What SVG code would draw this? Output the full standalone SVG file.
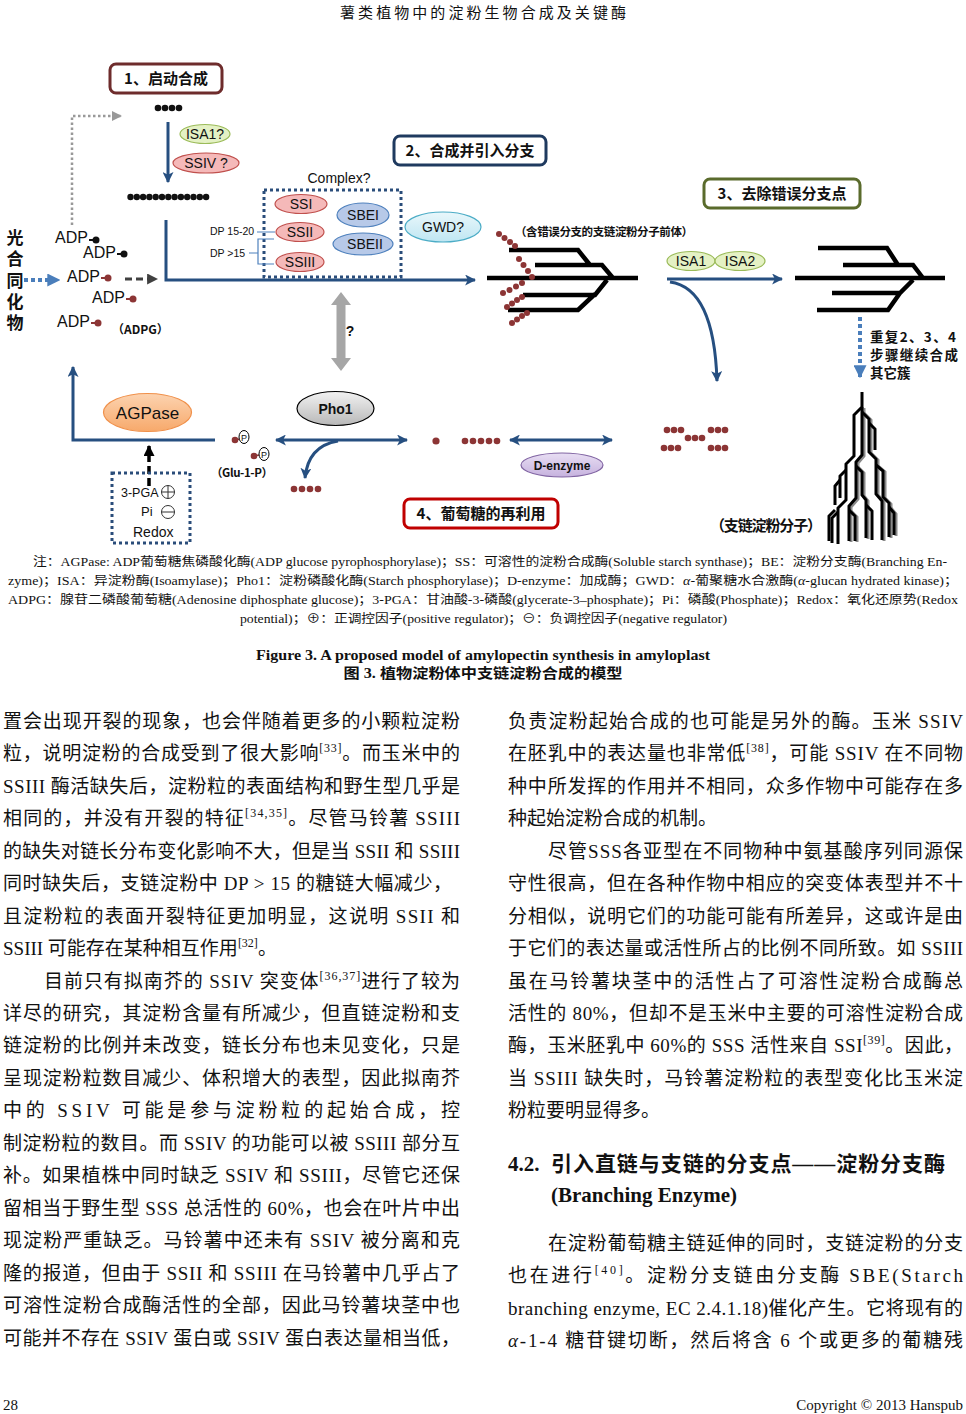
<svg xmlns="http://www.w3.org/2000/svg" width="966" height="1414" viewBox="0 0 966 1414">
<defs>
<style>
.serif{font-family:'Liberation Serif','Noto Sans CJK SC',serif;fill:#111}
.body{font-size:19px}
.note{font-size:12px}
.sans{font-family:'Liberation Sans','Noto Sans CJK SC',sans-serif;fill:#111}
.cal{font-family:'Liberation Sans','Noto Sans CJK SC',sans-serif;fill:#111}
.cjkb{font-family:'Noto Sans CJK SC',sans-serif;font-weight:bold;fill:#111}
.box{fill:#fff;stroke-width:3}
.blue{stroke:#264f80;stroke-width:3;fill:none}
.cb{fill:#111}
.cr{fill:#8c3535}
.mol{stroke:#000;stroke-width:4.5;fill:none;stroke-linejoin:miter}
.tree{stroke:#000;stroke-width:3;fill:none;stroke-linejoin:miter}
.treeS{stroke:#8a8a8a;stroke-width:3;fill:none}
.sup{font-size:12px}
.ssE{fill:#f5b9b9;stroke:#c0504d;stroke-width:1.2}
.sbE{fill:#b7c9e8;stroke:#4f81bd;stroke-width:1.2}
.isaE{fill:#e4f1c4;stroke:#9bbb59;stroke-width:1.2}
.lbl{font-family:'Liberation Sans','Open Sans',sans-serif;font-size:14px;fill:#111;text-anchor:middle}
</style>
<linearGradient id="gOr" x1="0" y1="0" x2="0" y2="1"><stop offset="0" stop-color="#fcd3b0"/><stop offset="1" stop-color="#f7a96b"/></linearGradient>
<linearGradient id="gGy" x1="0" y1="0" x2="0" y2="1"><stop offset="0" stop-color="#f2f2f2"/><stop offset="1" stop-color="#b8b8b8"/></linearGradient>
<linearGradient id="gPu" x1="0" y1="0" x2="0" y2="1"><stop offset="0" stop-color="#e8def3"/><stop offset="1" stop-color="#c6b2de"/></linearGradient>
<linearGradient id="gCy" x1="0" y1="0" x2="0" y2="1"><stop offset="0" stop-color="#e9f7fb"/><stop offset="1" stop-color="#bfe6f2"/></linearGradient>
<marker id="ab" viewBox="0 0 10 10" refX="9" refY="5" markerWidth="11" markerHeight="11" markerUnits="userSpaceOnUse" orient="auto-start-reverse"><path d="M0,0 L10,5 L0,10 L2.5,5 z" fill="#264f80"/></marker>
<marker id="alb" viewBox="0 0 10 10" refX="9" refY="5" markerWidth="13" markerHeight="13" markerUnits="userSpaceOnUse" orient="auto"><path d="M0,0 L10,5 L0,10 z" fill="#4a7ebb"/></marker>
<marker id="adg" viewBox="0 0 10 10" refX="9" refY="5" markerWidth="11" markerHeight="11" markerUnits="userSpaceOnUse" orient="auto"><path d="M0,0 L10,5 L0,10 z" fill="#404040"/></marker>
<marker id="ag" viewBox="0 0 10 10" refX="9" refY="5" markerWidth="10" markerHeight="10" markerUnits="userSpaceOnUse" orient="auto"><path d="M0,0 L10,5 L0,10 z" fill="#999"/></marker>
<marker id="ak" viewBox="0 0 10 10" refX="9" refY="5" markerWidth="11" markerHeight="11" markerUnits="userSpaceOnUse" orient="auto"><path d="M0,0 L10,5 L0,10 z" fill="#000"/></marker>
</defs>
<rect width="966" height="1414" fill="#fff"/>

<!-- header -->
<text class="serif" x="340" y="18" font-size="15" textLength="286" lengthAdjust="spacing">薯类植物中的淀粉生物合成及关键酶</text>

<!-- connectors -->
<g id="connectors">
  <path d="M72,225 V116 H121" stroke="#999" stroke-width="2.5" stroke-dasharray="2.5 2.5" fill="none" marker-end="url(#ag)"/>
  <path d="M168,122 V182" class="blue" marker-end="url(#ab)"/>
  <path d="M166,220 V280 H475" class="blue" marker-end="url(#ab)"/>
  <path d="M24,280 H59" stroke="#4a7ebb" stroke-width="4" stroke-dasharray="4 3" fill="none" marker-end="url(#alb)"/>
  <path d="M125,279 H157" stroke="#404040" stroke-width="3" stroke-dasharray="7 4" fill="none" marker-end="url(#adg)"/>
  <polygon points="341,292 351,305 345.5,305 345.5,358 351,358 341,371 331,358 336.5,358 336.5,305 331,305" fill="#a6a6a6"/>
  <path d="M667,279 H782" class="blue" marker-end="url(#ab)"/>
  <path d="M670,282 Q714,288 717,381" class="blue" marker-end="url(#ab)"/>
  <path d="M860,317 V377" stroke="#4a7ebb" stroke-width="4" stroke-dasharray="4 3" fill="none" marker-end="url(#alb)"/>
  <path d="M215,440 H73 V367" class="blue" marker-end="url(#ab)"/>
  <path d="M149,486 V446" stroke="#000" stroke-width="3.5" stroke-dasharray="8 4" fill="none" marker-end="url(#ak)"/>
  <path d="M276,440 H407" class="blue" marker-start="url(#ab)" marker-end="url(#ab)"/>
  <path d="M338,441 Q308,446 305,478" class="blue" marker-end="url(#ab)"/>
  <path d="M510,440 H612" class="blue" marker-start="url(#ab)" marker-end="url(#ab)"/>
</g>

<!-- step boxes -->
<g id="step1"><rect x="110" y="64" width="112" height="29" rx="6" class="box" stroke="#6e2c2c"/><text class="cjkb" x="166" y="84" font-size="15" text-anchor="middle">1、启动合成</text></g>
<g id="step2"><rect x="394" y="136" width="152" height="29" rx="6" class="box" stroke="#1f3a5f"/><text class="cjkb" x="470" y="156" font-size="15" text-anchor="middle">2、合成并引入分支</text></g>
<g id="step3"><rect x="704" y="179" width="156" height="29" rx="6" class="box" stroke="#5a6b2c"/><text class="cjkb" x="782" y="199" font-size="15" text-anchor="middle">3、去除错误分支点</text></g>
<g id="step4"><rect x="404" y="499" width="154" height="29" rx="6" class="box" stroke="#c00000"/><text class="cjkb" x="481" y="519" font-size="15" text-anchor="middle">4、葡萄糖的再利用</text></g>

<!-- photosynthate -->
<g id="photo">
  <text class="cjkb" x="15" y="229" font-size="17" writing-mode="vertical-rl" letter-spacing="4.3">光合同化物</text>
</g>

<!-- ADP glucose -->
<g id="adpg">
  <text class="sans" font-size="16"><tspan x="55" y="243">ADP</tspan><tspan x="83" y="258">ADP</tspan><tspan x="67" y="282">ADP</tspan><tspan x="92" y="303">ADP</tspan><tspan x="57" y="327">ADP</tspan></text>
  <g stroke-width="2">
    <line x1="89" y1="240" x2="94" y2="240" stroke="#111"/><circle cx="96" cy="240" r="3.5" class="cb"/>
    <line x1="117" y1="254" x2="122" y2="254" stroke="#111"/><circle cx="124" cy="254" r="3.5" class="cb"/>
    <line x1="101" y1="278" x2="106" y2="278" stroke="#8c3535"/><circle cx="108" cy="278" r="3.5" class="cr"/>
    <line x1="126" y1="299" x2="131" y2="299" stroke="#8c3535"/><circle cx="133" cy="299" r="3.5" class="cr"/>
    <line x1="91" y1="323" x2="96" y2="323" stroke="#8c3535"/><circle cx="98" cy="323" r="3.5" class="cr"/>
  </g>
  <text class="cjkb" x="112" y="334" font-size="12">（ADPG）</text>
</g>

<!-- initiation -->
<g id="init">
  <g class="cb"><circle cx="158" cy="108" r="3.3"/><circle cx="165" cy="108" r="3.3"/><circle cx="172" cy="108" r="3.3"/><circle cx="179" cy="108" r="3.3"/></g>
  <ellipse cx="205" cy="134" rx="25" ry="9.5" class="isaE"/><text class="lbl" x="205" y="139" font-size="13">ISA1?</text>
  <ellipse cx="206" cy="163" rx="33" ry="10" class="ssE"/><text class="lbl" x="206" y="168" font-size="13">SSIV ?</text>
  <g class="cb">
    <circle cx="130.5" cy="197" r="3.2"/><circle cx="136.8" cy="197" r="3.2"/><circle cx="143.1" cy="197" r="3.2"/><circle cx="149.4" cy="197" r="3.2"/><circle cx="155.7" cy="197" r="3.2"/><circle cx="162" cy="197" r="3.2"/><circle cx="168.3" cy="197" r="3.2"/><circle cx="174.6" cy="197" r="3.2"/><circle cx="180.9" cy="197" r="3.2"/><circle cx="187.2" cy="197" r="3.2"/><circle cx="193.5" cy="197" r="3.2"/><circle cx="199.8" cy="197" r="3.2"/><circle cx="206.1" cy="197" r="3.2"/>
  </g>
</g>

<!-- complex -->
<g id="complex">
  <text class="lbl" x="339" y="183" font-size="12.5">Complex?</text>
  <rect x="264" y="190" width="137" height="87" fill="none" stroke="#2a4d7a" stroke-width="3" stroke-dasharray="3 3"/>
  <ellipse cx="301" cy="204" rx="26" ry="9.5" class="ssE"/><text class="lbl" x="301" y="209">SSI</text>
  <ellipse cx="300" cy="232" rx="24" ry="9.5" class="ssE"/><text class="lbl" x="300" y="237">SSII</text>
  <ellipse cx="300" cy="262" rx="24" ry="9.5" class="ssE"/><text class="lbl" x="300" y="267">SSIII</text>
  <ellipse cx="363" cy="215" rx="26" ry="12" class="sbE"/><text class="lbl" x="363" y="220">SBEI</text>
  <ellipse cx="363" cy="244" rx="30" ry="11" class="sbE"/><text class="lbl" x="365" y="249">SBEII</text>
  <text class="cal" x="210" y="235" font-size="10.5">DP 15-20</text>
  <text class="cal" x="210" y="257" font-size="10.5">DP &gt;15</text>
  <path d="M257,232 H275 M249,253 H258 M274,239 H258 V264 H274" stroke="#4f81bd" stroke-width="1.2" fill="none"/>
</g>

<g id="gwd"><ellipse cx="443" cy="227" rx="38" ry="15" fill="url(#gCy)" stroke="#4bacc6" stroke-width="1.2"/><text class="lbl" x="443" y="232" font-size="15">GWD?</text></g>

<text class="lbl" x="350" y="336" font-size="16" font-weight="bold">?</text>

<!-- precursor -->
<g id="precursor">
  <text class="cjkb" x="515" y="236" font-size="11.5" textLength="178">（含错误分支的支链淀粉分子前体）</text>
  <path class="mol" d="M487,278 H638 M509,250 H578 L590,265 M535,265 H602 L613,278 M523,295 H595 L607,280 M508,310 H578 L595,294"/>
  <g class="cr">
    <circle cx="499" cy="234" r="3"/><circle cx="504.5" cy="238" r="3"/><circle cx="510" cy="242" r="3"/><circle cx="515" cy="246" r="3"/>
    <circle cx="519" cy="259" r="3"/><circle cx="523.5" cy="265" r="3"/><circle cx="528" cy="271" r="3"/><circle cx="532" cy="277" r="3"/>
    <circle cx="503" cy="293" r="3"/><circle cx="509.5" cy="290" r="3"/><circle cx="516" cy="286.5" r="3"/><circle cx="522" cy="283" r="3"/>
    <circle cx="507" cy="307" r="3"/><circle cx="512" cy="303.5" r="3"/><circle cx="517" cy="300" r="3"/><circle cx="522" cy="297" r="3"/>
    <circle cx="512" cy="323" r="3"/><circle cx="517" cy="319.5" r="3"/><circle cx="522" cy="316" r="3"/><circle cx="527" cy="313" r="3"/>
  </g>
</g>

<g id="isa">
  <ellipse cx="691" cy="261" rx="24" ry="9.5" class="isaE"/><text class="lbl" x="691" y="266">ISA1</text>
  <ellipse cx="740" cy="261" rx="25" ry="9.5" class="isaE"/><text class="lbl" x="740" y="266">ISA2</text>
</g>

<g id="clean">
  <path class="mol" d="M795,278 H945 M818,248 H887 L898,265 M843,265 H913 L923,278 M832,293 H900 L913,280 M817,310 H888 L900,293"/>
</g>

<g id="repeat">
  <text class="cjkb" font-size="13.5"><tspan x="870" y="342" textLength="86">重复2、3、4</tspan><tspan x="870" y="360" textLength="88">步骤继续合成</tspan><tspan x="870" y="378">其它簇</tspan></text>
</g>

<!-- AGPase and regulators -->
<g id="agpase"><ellipse cx="147.5" cy="412.5" rx="44" ry="19" fill="url(#gOr)" stroke="#f0904a" stroke-width="1.2"/><text class="sans" x="147.5" y="419" font-size="17" text-anchor="middle">AGPase</text></g>
<g id="regulators">
  <rect x="112" y="473" width="78" height="70" fill="none" stroke="#2a4d7a" stroke-width="3" stroke-dasharray="3 3"/>
  <text class="cal" x="121" y="497" font-size="12.5">3-PGA</text>
  <circle cx="168" cy="492" r="6.5" fill="none" stroke="#333" stroke-width="1"/><path d="M161.5,492 H174.5 M168,485.5 V498.5" stroke="#333" stroke-width="1"/>
  <text class="cal" x="141" y="516" font-size="13">Pi</text>
  <circle cx="168" cy="512" r="6.5" fill="none" stroke="#333" stroke-width="1"/><path d="M161.5,512 H174.5" stroke="#333" stroke-width="1"/>
  <text class="cal" x="133" y="537" font-size="14">Redox</text>
</g>

<g id="glu1p">
  <line x1="235" y1="440" x2="240" y2="439" stroke="#8c3535" stroke-width="1.5"/><circle cx="235" cy="440" r="3.3" class="cr"/>
  <ellipse cx="244" cy="437" rx="5" ry="6.5" fill="#fff" stroke="#000" stroke-width="1"/><text class="sans" x="244" y="440.5" font-size="9" text-anchor="middle">P</text>
  <line x1="254" y1="456" x2="259" y2="455" stroke="#8c3535" stroke-width="1.5"/><circle cx="254" cy="456" r="3.3" class="cr"/>
  <ellipse cx="264" cy="454" rx="5" ry="6.5" fill="#fff" stroke="#000" stroke-width="1"/><text class="sans" x="264" y="457.5" font-size="9" text-anchor="middle">P</text>
  <text class="cjkb" x="211" y="477" font-size="11.5" textLength="62">（Glu-1-P）</text>
</g>

<g id="pho1"><ellipse cx="335.5" cy="408.5" rx="38.5" ry="17" fill="url(#gGy)" stroke="#000" stroke-width="1.2"/><text class="sans" x="335.5" y="414" font-size="14" font-weight="bold" text-anchor="middle">Pho1</text></g>

<g id="glucans" class="cr">
  <circle cx="294" cy="489" r="3.3"/><circle cx="302" cy="489" r="3.3"/><circle cx="310" cy="489" r="3.3"/><circle cx="318" cy="489" r="3.3"/>
  <circle cx="436" cy="441" r="3.6"/>
  <circle cx="465" cy="441" r="3.3"/><circle cx="473" cy="441" r="3.3"/><circle cx="481" cy="441" r="3.3"/><circle cx="489" cy="441" r="3.3"/><circle cx="497" cy="441" r="3.3"/>
  <circle cx="667" cy="430" r="3.3"/><circle cx="674" cy="430" r="3.3"/><circle cx="681" cy="430" r="3.3"/>
  <circle cx="688" cy="438" r="3.3"/><circle cx="695" cy="438" r="3.3"/><circle cx="702" cy="438" r="3.3"/>
  <circle cx="711" cy="430" r="3.3"/><circle cx="718" cy="430" r="3.3"/><circle cx="725" cy="430" r="3.3"/>
  <circle cx="664" cy="448" r="3.3"/><circle cx="671" cy="448" r="3.3"/><circle cx="678" cy="448" r="3.3"/>
  <circle cx="711" cy="448" r="3.3"/><circle cx="718" cy="448" r="3.3"/><circle cx="725" cy="448" r="3.3"/>
</g>

<g id="denzyme"><ellipse cx="562" cy="465" rx="41" ry="12" fill="url(#gPu)" stroke="#8064a2" stroke-width="1.2"/><text class="sans" x="562" y="469.5" font-size="12" font-weight="bold" text-anchor="middle">D-enzyme</text></g>

<!-- amylopectin tree -->
<g id="amylopectin">
  <g class="treeS" transform="translate(2,1)">
    <path d="M862,407 V455 L856,462 V498 L849,506 V541"/>
    <path d="M862,412 L869,419 V452 L876,459 V494 L882,501 V540"/>
    <path d="M856,466 L862,472 V495 L866,500 V538"/>
    <path d="M876,465 L883,471 V497 L889,503 V537"/>
    <path d="M849,510 L855,516 V541"/>
    <path d="M889,507 L894,513 V535"/>
  </g>
  <g class="tree">
    <path d="M862,392 V407 L854,415 V456 L846,464 V500 L838,508 V544"/>
    <path d="M862,407 V455 L856,462 V498 L849,506 V541"/>
    <path d="M862,412 L869,419 V452 L876,459 V494 L882,501 V540"/>
    <path d="M869,423 L875,429 V450"/>
    <path d="M846,470 L840,476 V498"/>
    <path d="M856,466 L862,472 V495 L866,500 V538"/>
    <path d="M876,465 L883,471 V497 L889,503 V537"/>
    <path d="M838,512 L832,518 V543"/>
    <path d="M849,510 L855,516 V541"/>
    <path d="M866,505 L872,511 V540"/>
    <path d="M840,480 L835,486 V505"/>
    <path d="M889,507 L894,513 V535"/>
    <path d="M835,510 L829,516 V541"/>
  </g>
  <text class="cjkb" x="710" y="531" font-size="15" font-weight="normal" textLength="112">（支链淀粉分子）</text>
</g>

<!-- note -->
<g id="note" class="serif note">
  <text x="33" y="566" textLength="914" lengthAdjust="spacingAndGlyphs">注：AGPase: ADP葡萄糖焦磷酸化酶(ADP glucose pyrophosphorylase)；SS：可溶性的淀粉合成酶(Soluble starch synthase)；BE：淀粉分支酶(Branching En-</text>
  <text x="8" y="585" textLength="950" lengthAdjust="spacingAndGlyphs">zyme)；ISA：异淀粉酶(Isoamylase)；Pho1：淀粉磷酸化酶(Starch phosphorylase)；D-enzyme：加成酶；GWD：<tspan font-style="italic">α</tspan>-葡聚糖水合激酶(<tspan font-style="italic">α</tspan>-glucan hydrated kinase)；</text>
  <text x="8" y="604" textLength="950" lengthAdjust="spacingAndGlyphs">ADPG：腺苷二磷酸葡萄糖(Adenosine diphosphate glucose)；3-PGA：甘油酸-3-磷酸(glycerate-3–phosphate)；Pi：磷酸(Phosphate)；Redox：氧化还原势(Redox</text>
  <text x="240" y="623" textLength="487" lengthAdjust="spacingAndGlyphs">potential)；⊕：正调控因子(positive regulator)；⊖：负调控因子(negative regulator)</text>
</g>

<g id="caption" class="serif" font-weight="bold" text-anchor="middle">
  <text x="483" y="660" font-size="14" textLength="454" lengthAdjust="spacingAndGlyphs">Figure 3. A proposed model of amylopectin synthesis in amyloplast</text>
  <text x="483" y="678" font-size="14" textLength="279" lengthAdjust="spacingAndGlyphs">图 3.  植物淀粉体中支链淀粉合成的模型</text>
</g>

<!-- body left -->
<g id="body-left" class="serif body">
  <text x="3" y="728" textLength="457">置会出现开裂的现象，也会伴随着更多的小颗粒淀粉</text>
  <text x="3" y="760" textLength="457">粒，说明淀粉的合成受到了很大影响<tspan class="sup" dy="-8">[33]</tspan><tspan dy="8">。而玉米中的</tspan></text>
  <text x="3" y="793" textLength="457">SSIII 酶活缺失后，淀粉粒的表面结构和野生型几乎是</text>
  <text x="3" y="825" textLength="457">相同的，并没有开裂的特征<tspan class="sup" dy="-8">[34,35]</tspan><tspan dy="8">。尽管马铃薯 SSIII</tspan></text>
  <text x="3" y="858" textLength="457">的缺失对链长分布变化影响不大，但是当 SSII 和 SSIII</text>
  <text x="3" y="890" textLength="449">同时缺失后，支链淀粉中 DP &gt; 15 的糖链大幅减少，</text>
  <text x="3" y="923" textLength="457">且淀粉粒的表面开裂特征更加明显，这说明 SSII 和</text>
  <text x="3" y="955">SSIII 可能存在某种相互作用<tspan class="sup" dy="-8">[32]</tspan><tspan dy="8">。</tspan></text>
  <text x="44" y="988" textLength="416">目前只有拟南芥的 SSIV 突变体<tspan class="sup" dy="-8">[36,37]</tspan><tspan dy="8">进行了较为</tspan></text>
  <text x="3" y="1020" textLength="457">详尽的研究，其淀粉含量有所减少，但直链淀粉和支</text>
  <text x="3" y="1052" textLength="457">链淀粉的比例并未改变，链长分布也未见变化，只是</text>
  <text x="3" y="1085" textLength="457">呈现淀粉粒数目减少、体积增大的表型，因此拟南芥</text>
  <text x="3" y="1117" textLength="457">中的 SSIV 可能是参与淀粉粒的起始合成，控</text>
  <text x="3" y="1150" textLength="457">制淀粉粒的数目。而 SSIV 的功能可以被 SSIII 部分互</text>
  <text x="3" y="1182" textLength="457">补。如果植株中同时缺乏 SSIV 和 SSIII，尽管它还保</text>
  <text x="3" y="1215" textLength="457">留相当于野生型 SSS 总活性的 60%，也会在叶片中出</text>
  <text x="3" y="1247" textLength="457">现淀粉严重缺乏。马铃薯中还未有 SSIV 被分离和克</text>
  <text x="3" y="1280" textLength="457">隆的报道，但由于 SSII 和 SSIII 在马铃薯中几乎占了</text>
  <text x="3" y="1312" textLength="457">可溶性淀粉合成酶活性的全部，因此马铃薯块茎中也</text>
  <text x="3" y="1345" textLength="457">可能并不存在 SSIV 蛋白或 SSIV 蛋白表达量相当低，</text>
</g>

<!-- body right -->
<g id="body-right" class="serif body">
  <text x="508" y="728" textLength="455">负责淀粉起始合成的也可能是另外的酶。玉米 SSIV</text>
  <text x="508" y="760" textLength="455">在胚乳中的表达量也非常低<tspan class="sup" dy="-8">[38]</tspan><tspan dy="8">，可能 SSIV 在不同物</tspan></text>
  <text x="508" y="793" textLength="455">种中所发挥的作用并不相同，众多作物中可能存在多</text>
  <text x="508" y="825">种起始淀粉合成的机制。</text>
  <text x="548" y="858" textLength="415">尽管SSS各亚型在不同物种中氨基酸序列同源保</text>
  <text x="508" y="890" textLength="455">守性很高，但在各种作物中相应的突变体表型并不十</text>
  <text x="508" y="923" textLength="455">分相似，说明它们的功能可能有所差异，这或许是由</text>
  <text x="508" y="955" textLength="455">于它们的表达量或活性所占的比例不同所致。如 SSIII</text>
  <text x="508" y="988" textLength="455">虽在马铃薯块茎中的活性占了可溶性淀粉合成酶总</text>
  <text x="508" y="1020" textLength="455">活性的 80%，但却不是玉米中主要的可溶性淀粉合成</text>
  <text x="508" y="1052" textLength="455">酶，玉米胚乳中 60%的 SSS 活性来自 SSI<tspan class="sup" dy="-8">[39]</tspan><tspan dy="8">。因此，</tspan></text>
  <text x="508" y="1085" textLength="455">当 SSIII 缺失时，马铃薯淀粉粒的表型变化比玉米淀</text>
  <text x="508" y="1117">粉粒要明显得多。</text>
  <text x="508" y="1171" font-size="21" font-weight="bold">4.2.</text>
  <text x="551" y="1171" font-size="21" font-weight="bold" textLength="394">引入直链与支链的分支点——淀粉分支酶</text>
  <text x="551" y="1202" font-size="21" font-weight="bold">(Branching Enzyme)</text>
  <text x="548" y="1250" textLength="415">在淀粉葡萄糖主链延伸的同时，支链淀粉的分支</text>
  <text x="508" y="1282" textLength="455">也在进行<tspan class="sup" dy="-8">[40]</tspan><tspan dy="8">。淀粉分支链由分支酶 SBE(Starch</tspan></text>
  <text x="508" y="1315" textLength="455">branching enzyme, EC 2.4.1.18)催化产生。它将现有的</text>
  <text x="508" y="1347" textLength="455"><tspan font-style="italic">α</tspan>-1-4 糖苷键切断，然后将含 6 个或更多的葡糖残</text>
</g>

<g id="footer" class="serif" font-size="15">
  <text x="3" y="1410">28</text>
  <text x="963" y="1410" text-anchor="end">Copyright © 2013 Hanspub</text>
</g>
</svg>
